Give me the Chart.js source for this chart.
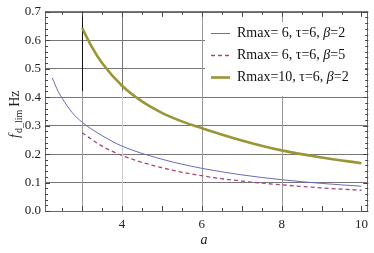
<!DOCTYPE html>
<html>
<head>
<meta charset="utf-8">
<script src="https://cdn.jsdelivr.net/npm/chart.js@4"></script>
<style>
  html, body { margin: 0; padding: 0; background: #fff; }
  #wrap { width: 374px; height: 253px; }
</style>
</head>
<body>
<div id="wrap"><canvas id="fChart"></canvas></div>
<script>
// valeurs
const aBlue = [2.25, 2.4, 2.5, 2.75, 3, 3.5, 4, 5, 6, 7, 8, 9, 10];
const fBlue = [0.468, 0.42, 0.396, 0.346, 0.312, 0.265, 0.228, 0.182, 0.15, 0.127, 0.11, 0.097, 0.087];
const aRed = [3, 3.5, 4, 5, 6, 7, 8, 9, 10];
const fRed = [0.275, 0.228, 0.195, 0.152, 0.124, 0.105, 0.092, 0.081, 0.073];
const aGold = [3, 3.25, 3.5, 4, 4.5, 5, 5.5, 6, 7, 8, 9, 10];
const fGold = [0.643, 0.575, 0.52, 0.44, 0.385, 0.345, 0.315, 0.291, 0.248, 0.213, 0.188, 0.168];
const labels = [['Rmax= 6, \u03c4=6, ', '\u03b2', '=2'], ['Rmax= 6, \u03c4=6, ', '\u03b2', '=5'], ['Rmax=10, \u03c4=6, ', '\u03b2', '=2']];
const xTicks = [4, 6, 8, 10];
const xGrid = [3, 4, 6, 8];

function pts(xs, ys) { return xs.map((x, i) => ({ x: x, y: ys[i] })); }

const SERIF = '"Liberation Serif", "DejaVu Serif", serif';

const framePlugin = {
  id: 'frame',
  beforeDatasetsDraw(chart) {
    const { ctx, chartArea: ca, scales: { x, y } } = chart;
    ctx.save();
    ctx.setLineDash([]);
    ctx.lineWidth = 1;
    // lignes verticales (grille)
    xGrid.forEach(v => {
      const px = Math.round(x.getPixelForValue(v)) + 0.5;
      const split = y.getPixelForValue(0.42);
      ctx.strokeStyle = v === 3 ? '#111' : (v === 4 ? '#777' : '#999');
      ctx.beginPath(); ctx.moveTo(px, ca.top); ctx.lineTo(px, split); ctx.stroke();
      ctx.strokeStyle = v === 4 ? '#ccc' : '#999';
      ctx.beginPath(); ctx.moveTo(px, split); ctx.lineTo(px, ca.bottom); ctx.stroke();
    });
    ctx.restore();
  },
  afterDatasetsDraw(chart) {
    const { ctx, chartArea: ca, scales: { x, y } } = chart;
    ctx.save();
    ctx.setLineDash([]);
    // cadre
    ctx.strokeStyle = '#666';
    ctx.lineWidth = 1;
    ctx.strokeRect(Math.round(ca.left) + 0.5, Math.round(ca.top) + 0.5, Math.round(ca.right - ca.left) - 1, Math.round(ca.bottom - ca.top));
    // graduations
    ctx.strokeStyle = '#444';
    for (let k = 0; k <= 35; k++) {
      const py = Math.round(y.getPixelForValue(k * 0.02)) + 0.5;
      const len = k % 5 === 0 ? 5 : 3;
      ctx.beginPath();
      ctx.moveTo(ca.left, py); ctx.lineTo(ca.left + len, py);
      ctx.moveTo(ca.right, py); ctx.lineTo(ca.right - len, py);
      ctx.stroke();
    }
    for (let v = 2.5; v <= 10; v += 0.5) {
      const px = Math.round(x.getPixelForValue(v)) + 0.5;
      const len = v % 1 === 0 ? 5 : 3;
      ctx.beginPath();
      ctx.moveTo(px, ca.bottom); ctx.lineTo(px, ca.bottom - len);
      ctx.moveTo(px, ca.top); ctx.lineTo(px, ca.top + len);
      ctx.stroke();
    }
    // légende
    ctx.fillStyle = '#fff';
    ctx.fillRect(205, 22, 160, 74);
    chart.data.datasets.forEach((ds, i) => {
      const cy = 33.5 + i * 22;
      ctx.strokeStyle = ds.borderColor;
      ctx.lineWidth = ds.borderWidth;
      ctx.setLineDash(ds.borderDash || []);
      ctx.beginPath(); ctx.moveTo(211, cy); ctx.lineTo(230, cy); ctx.stroke();
      ctx.setLineDash([]);
      let tx = 237;
      ctx.fillStyle = '#111';
      ctx.textBaseline = 'middle';
      ctx.textAlign = 'left';
      labels[i].forEach((p, j) => {
        ctx.font = (j === 1 ? 'italic ' : '') + '14px ' + SERIF;
        ctx.fillText(p, tx, cy);
        tx += ctx.measureText(p).width;
      });
    });
    // titres des axes
    ctx.fillStyle = '#222';
    ctx.textBaseline = 'alphabetic';
    ctx.textAlign = 'center';
    ctx.font = 'italic 14px ' + SERIF;
    ctx.fillText('a', 204, 244);
    ctx.save();
    ctx.translate(19, 112);
    ctx.rotate(-Math.PI / 2);
    ctx.textAlign = 'left';
    let t = -26;
    ctx.font = 'italic 14px ' + SERIF;
    ctx.fillText('f', t, 0); t += ctx.measureText('f').width + 1;
    ctx.font = '10px ' + SERIF;
    ctx.fillText('d_lim', t, 3); t += ctx.measureText('d_lim').width + 3;
    ctx.font = '14px ' + SERIF;
    ctx.fillText('Hz', t, 0);
    ctx.restore();
    ctx.restore();
  }
};

const lineOpts = { showLine: true, pointRadius: 0, cubicInterpolationMode: 'monotone', fill: false };

new Chart(document.getElementById('fChart'), {
  type: 'scatter',
  data: {
    datasets: [
      Object.assign({ label: 'Rmax= 6, τ=6, β=2', data: pts(aBlue, fBlue), borderColor: '#6a6ab8', borderWidth: 1 }, lineOpts),
      Object.assign({ label: 'Rmax= 6, τ=6, β=5', data: pts(aRed, fRed), borderColor: '#a8487a', borderWidth: 1.3, borderDash: [4, 3] }, lineOpts),
      Object.assign({ label: 'Rmax=10, τ=6, β=2', data: pts(aGold, fGold), borderColor: '#9a9535', borderWidth: 2.6 }, lineOpts)
    ]
  },
  options: {
    responsive: true,
    maintainAspectRatio: false,
    animation: false,
    layout: { padding: { top: 8, right: 2, left: 0, bottom: 0 } },
    plugins: { legend: { display: false }, tooltip: { enabled: false } },
    scales: {
      x: {
        type: 'linear', min: 2.07, max: 10.17,
        afterBuildTicks: s => { s.ticks = xTicks.map(v => ({ value: v })); },
        afterFit: s => { s.height = 42; },
        grid: { display: false, drawTicks: false },
        border: { display: false },
        ticks: { color: '#222', font: { family: SERIF, size: 13 }, padding: 6, maxRotation: 0 }
      },
      y: {
        min: 0, max: 0.7,
        afterFit: s => { s.width = 45; },
        grid: { color: '#777', lineWidth: 1, drawTicks: false },
        border: { display: false },
        ticks: { stepSize: 0.1, color: '#222', font: { family: SERIF, size: 13 }, padding: 4, callback: v => v.toFixed(1) }
      }
    }
  },
  plugins: [framePlugin]
});
</script>
</body>
</html>
